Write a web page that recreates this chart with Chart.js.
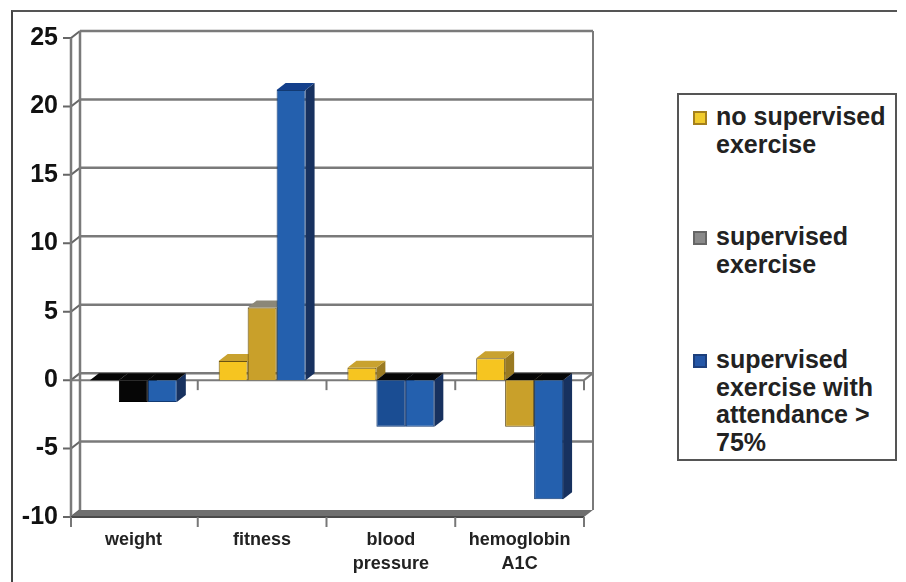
<!DOCTYPE html>
<html>
<head>
<meta charset="utf-8">
<title>Exercise outcomes</title>
<script src="https://cdn.jsdelivr.net/npm/chart.js@4"></script>
<style>
  html, body { margin: 0; padding: 0; background: #fff; }
  body { width: 906px; height: 582px; position: relative; overflow: hidden; }
  #frame { position: absolute; left: 11px; top: 10px; width: 884px; height: 572px; border-top: 2px solid #555; border-left: 2px solid #444; }
  #chart { position: absolute; left: 0; top: 0; }
  #legend { position: absolute; left: 677px; top: 93px; width: 216px; height: 364px; border: 2px solid #555; background: #fff;
    font: bold 25px/27.5px "Liberation Sans", Arial, sans-serif; color: #222; }
  .item { position: absolute; left: 37px; white-space: pre; }
  .swatch { position: absolute; left: -23px; top: 8px; width: 10px; height: 10px; border: 2px solid; }
</style>
</head>
<body>
<div id="frame"></div>
<canvas id="chart" width="906" height="582"></canvas>
<div id="legend"></div>
<script>
(() => {
  const categories = ["weight", "fitness", ["blood", "pressure"], ["hemoglobin", "A1C"]];
  const noSupervised = [0, 1.4, 0.9, 1.6];
  const supervised = [-1.6, 5.3, -3.4, -3.4];
  const supervisedHigh = [-1.6, 21.2, -3.4, -8.7];
  const yTicks = [25, 20, 15, 10, 5, 0, -5, -10];
  const legendLines = [
    ["no supervised", "exercise"],
    ["supervised", "exercise"],
    ["supervised", "exercise with", "attendance >", "75%"],
  ];

  // colours, front / side / top, one row per dataset
  const YELLOW = { front: "#f6c520", side: "#9a7a22", top: "#c9a22f", edge: "#6b5312" };
  const GOLD = { front: "#c9a02a", side: "#8a6d1c", top: "#8b8778", edge: "#5e4a12" };
  const BLUE = { front: "#2460ae", side: "#17315f", top: "#14408c", edge: "#123a73" };
  const BLACK = { front: "#060606", side: "#060606", top: "#060606", edge: "#000" };
  const NAVY = { front: "#1a4d93", side: "#17315f", top: "#14408c", edge: "#123a73" };
  const pointColors = [
    [YELLOW, YELLOW, YELLOW, YELLOW],
    [BLACK, GOLD, NAVY, GOLD],
    [BLUE, BLUE, BLUE, BLUE],
  ];
  const legendColors = [
    { bg: "#f1cb2c", border: "#a5801c" },
    { bg: "#8a8a8a", border: "#666" },
    { bg: "#2456a6", border: "#1d3f7c" },
  ];

  const DX = 9;
  const DY = 7;
  const LINE = "#7a7a7a";
  const WALL_INSET = 2; // the y axis sits a little inside the first category in the picture

  function poly(ctx, pts, fill) {
    ctx.fillStyle = fill;
    ctx.beginPath();
    pts.forEach((p, i) => (i ? ctx.lineTo(p[0], p[1]) : ctx.moveTo(p[0], p[1])));
    ctx.closePath();
    ctx.fill();
  }

  function seg(ctx, pts, color, width) {
    ctx.strokeStyle = color;
    ctx.lineWidth = width;
    ctx.beginPath();
    pts.forEach((p, i) => (i ? ctx.lineTo(p[0], p[1]) : ctx.moveTo(p[0], p[1])));
    ctx.stroke();
  }

  // back wall, floor, ticks and the side/top faces of the bars, all from the chart's scales
  const walls = {
    id: "walls",
    beforeDatasetsDraw(chart) {
      const { ctx, chartArea: a, scales } = chart;
      const y = scales.y;
      const x = scales.x;
      const left = a.left + WALL_INSET;
      const top = y.getPixelForValue(25);
      const bottom = y.getPixelForValue(-10);
      const zero = y.getPixelForValue(0);
      ctx.save();
      yTicks.forEach((v) => {
        const py = y.getPixelForValue(v);
        seg(ctx, [[left - 8, py], [left, py], [left + DX, py - DY]], "#666", 2);
        if (v !== -10) seg(ctx, [[left + DX, py - DY], [a.right + DX, py - DY]], LINE, 2.5);
      });
      seg(ctx, [[left, top], [left, bottom]], LINE, 2.5);
      seg(ctx, [[left + DX, top - DY], [left + DX, bottom - DY]], LINE, 2.5);
      seg(ctx, [[a.right + DX, top - DY], [a.right + DX, bottom - DY]], LINE, 2);
      // floor
      poly(ctx, [[left, bottom], [left + DX, bottom - DY], [a.right + DX, bottom - DY], [a.right, bottom]], "#6f6f6f");
      seg(ctx, [[left, bottom], [a.right, bottom]], "#4a4a4a", 2);
      // front zero line and category ticks
      seg(ctx, [[left, zero], [a.right, zero]], LINE, 2);
      seg(ctx, [[a.right, zero], [a.right + DX, zero - DY]], LINE, 2);
      categories.forEach((c, i) => {
        const px = i === categories.length - 1 ? a.right : (x.getPixelForValue(i) + x.getPixelForValue(i + 1)) / 2;
        seg(ctx, [[px, zero], [px, zero + 10]], "#777", 2);
        seg(ctx, [[px, bottom], [px, bottom + 10]], "#777", 2);
      });
      seg(ctx, [[left, bottom], [left, bottom + 10]], "#777", 2);

      // the library paints the fronts afterwards, so they cover the neighbour's side
      chart.data.datasets.forEach((ds, d) => {
        chart.getDatasetMeta(d).data.forEach((bar, i) => {
          const v = ds.data[i];
          const c = pointColors[d][i];
          const l = bar.x - bar.width / 2;
          const r = bar.x + bar.width / 2;
          const upper = v > 0 ? bar.y : zero;
          const lower = v > 0 ? zero : bar.y;
          if (lower > upper) {
            poly(ctx, [[r, upper], [r + DX, upper - DY], [r + DX, lower - DY], [r, lower]], c.side);
          }
          poly(ctx, [[l, upper], [l + DX, upper - DY], [r + DX, upper - DY], [r, upper]], v > 0 ? c.top : "#060606");
        });
      });
      ctx.restore();
    },
  };

  const fronts = (d, k) => pointColors[d].map((c) => c[k]);

  new Chart(document.getElementById("chart"), {
    type: "bar",
    plugins: [walls],
    data: {
      labels: categories,
      datasets: [
        { label: legendLines[0].join(" "), data: noSupervised, backgroundColor: fronts(0, "front"), borderColor: fronts(0, "edge") },
        { label: legendLines[1].join(" "), data: supervised, backgroundColor: fronts(1, "front"), borderColor: fronts(1, "edge") },
        { label: legendLines[2].join(" "), data: supervisedHigh, backgroundColor: fronts(2, "front"), borderColor: fronts(2, "edge") },
      ],
    },
    options: {
      responsive: false,
      animation: false,
      devicePixelRatio: 1,
      layout: { padding: { top: 38, right: 322, left: 0, bottom: 0 } },
      datasets: { bar: { barPercentage: 1, categoryPercentage: 0.675, borderWidth: 1 } },
      plugins: { legend: { display: false }, tooltip: { enabled: false } },
      scales: {
        x: {
          grid: { display: false },
          border: { display: false },
          afterFit: (s) => { s.height = 65; },
          ticks: {
            color: "#222",
            padding: 3,
            maxRotation: 0,
            autoSkip: false,
            font: { family: "'Liberation Sans'", size: 18, weight: "bold", lineHeight: 1.35 },
          },
        },
        y: {
          min: -10,
          max: 25,
          grid: { display: false },
          border: { display: false },
          afterFit: (s) => { s.width = 69; },
          afterBuildTicks: (s) => { s.ticks = yTicks.map((v) => ({ value: v })); },
          ticks: {
            color: "#111",
            padding: 3,
            font: { family: "'Liberation Sans'", size: 25, weight: "bold" },
          },
        },
      },
    },
  });

  // legend box
  const legendTops = [8, 128, 251];
  const legendEl = document.getElementById("legend");
  legendLines.forEach((lines, i) => {
    const d = document.createElement("div");
    d.className = "item";
    d.style.top = legendTops[i] + "px";
    d.textContent = lines.join("\n");
    const s = document.createElement("span");
    s.className = "swatch";
    s.style.background = legendColors[i].bg;
    s.style.borderColor = legendColors[i].border;
    d.appendChild(s);
    legendEl.appendChild(d);
  });
})();
</script>
</body>
</html>
